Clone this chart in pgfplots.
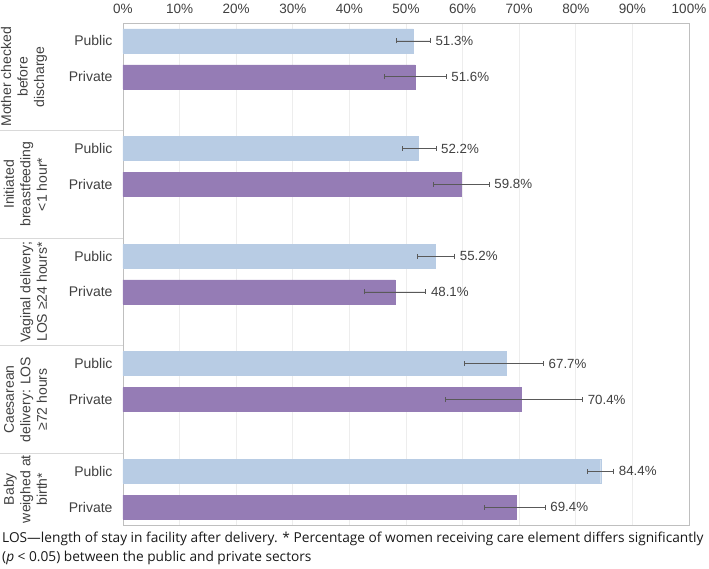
\documentclass[border=0pt]{standalone}
\usepackage{fontspec}
\setmainfont{Liberation Sans}
\newfontfamily\notefont{Open Sans}
\usepackage{pgfplots}
\usepackage{pgfplotstable}
\pgfplotsset{compat=1.18}
\definecolor{pub}{HTML}{B8CCE4}
\definecolor{pri}{HTML}{957CB5}
\definecolor{errc}{HTML}{595959}
\definecolor{gridc}{HTML}{EDEDED}
\definecolor{framec}{HTML}{BFBFBF}
\definecolor{sepc}{HTML}{D9D9D9}
\definecolor{txt}{HTML}{404040}

\pgfplotstableread{
y val em ep
0 51.3 3.0 3.0
3 52.2 2.9 3.1
6 55.2 3.2 3.4
9 67.7 7.3 6.6
12 84.4 2.4 2.3
}\pubdata
\pgfplotstableread{
y val em ep
1 51.6 5.4 5.5
4 59.8 5.0 4.9
7 48.1 5.4 5.4
10 70.4 13.4 10.8
13 69.4 5.5 5.2
}\pridata

\begin{document}
\begin{tikzpicture}
\path[use as bounding box] (-123pt,-44pt) rectangle (586pt,525pt);
\begin{axis}[
  at={(0pt,0pt)}, anchor=south west,
  scale only axis, width=566pt, height=502pt,
  xmin=0, xmax=100, ymin=-0.5, ymax=13.5, y dir=reverse,
  clip=false,
  axis line style={framec, line width=0.8pt},
  xmajorgrids, grid style={gridc, line width=0.8pt},
  major tick length=0pt,
  xtick={0,10,...,100},
  xticklabels={0\%,10\%,20\%,30\%,40\%,50\%,60\%,70\%,80\%,90\%,100\%},
  xticklabel pos=upper,
  xticklabel style={font=\fontsize{13.5}{16}\selectfont, text=txt, yshift=6pt},
  ytick={0,1,3,4,6,7,9,10,12,13},
  yticklabels={Public,Private,Public,Private,Public,Private,Public,Private,Public,Private},
  yticklabel style={font=\fontsize{14}{16}\selectfont, text=txt, xshift=-7pt},
]
\addplot[xbar, bar width=24pt, bar shift=0pt, fill=pub, draw=pub,
  error bars/.cd, x dir=both, x explicit, error mark=|,
  error bar style={errc, line width=0.8pt},
  error mark options={errc, line width=0.8pt, mark size=2.5pt}]
  table[x=val, y=y, x error plus=ep, x error minus=em] {\pubdata};
\addplot[xbar, bar width=24pt, bar shift=0pt, fill=pri, draw=pri,
  error bars/.cd, x dir=both, x explicit, error mark=|,
  error bar style={errc, line width=0.8pt},
  error mark options={errc, line width=0.8pt, mark size=2.5pt}]
  table[x=val, y=y, x error plus=ep, x error minus=em] {\pridata};
\addplot[draw=none, mark=none, point meta=explicit,
  nodes near coords={\pgfmathprintnumber[fixed,fixed zerofill,precision=1,assume math mode=true]{\pgfplotspointmeta}\%},
  nodes near coords style={anchor=west, xshift=5pt, inner sep=0pt, font=\fontsize{13.3}{15}\selectfont, text=txt}]
  table[x expr=\thisrow{val}+\thisrow{ep}, y=y, meta=val] {\pubdata};
\addplot[draw=none, mark=none, point meta=explicit,
  nodes near coords={\pgfmathprintnumber[fixed,fixed zerofill,precision=1,assume math mode=true]{\pgfplotspointmeta}\%},
  nodes near coords style={anchor=west, xshift=5pt, inner sep=0pt, font=\fontsize{13.3}{15}\selectfont, text=txt}]
  table[x expr=\thisrow{val}+\thisrow{ep}, y=y, meta=val] {\pridata};
\draw[sepc, line width=0.8pt] (axis cs:-21.7,2.5) -- (axis cs:0,2.5);
\draw[sepc, line width=0.8pt] (axis cs:-21.7,5.5) -- (axis cs:0,5.5);
\draw[sepc, line width=0.8pt] (axis cs:-21.7,8.5) -- (axis cs:0,8.5);
\draw[sepc, line width=0.8pt] (axis cs:-21.7,11.5) -- (axis cs:0,11.5);
\begin{scope}[every node/.style={rotate=90, anchor=south, align=center, inner sep=0pt, text=txt, font=\fontsize{14}{16.5}\selectfont}]
\node at (axis cs:-13.4,1) {Mother checked\\before\\discharge};
\node at (axis cs:-13.4,4) {Initiated\\breastfeeding\\<1 hour*};
\node at (axis cs:-13.4,7) {Vaginal delivery;\\LOS ≥24 hours*};
\node at (axis cs:-13.4,10) {Caesarean\\delivery: LOS\\≥72 hours};
\node at (axis cs:-13.4,12.5) {Baby\\weighed at\\birth*};
\end{scope}
\end{axis}
\node[anchor=base west, inner sep=0pt, font=\notefont\fontsize{13.7}{16}\selectfont, text=black!90] at (-121pt,-17.5pt)
  {LOS—length of stay in facility after delivery. * Percentage of women receiving care element differs significantly};
\node[anchor=base west, inner sep=0pt, font=\notefont\fontsize{13.7}{16}\selectfont, text=black!90] at (-121pt,-37pt)
  {(\textit{p} < 0.05) between the public and private sectors};
\end{tikzpicture}
\end{document}
